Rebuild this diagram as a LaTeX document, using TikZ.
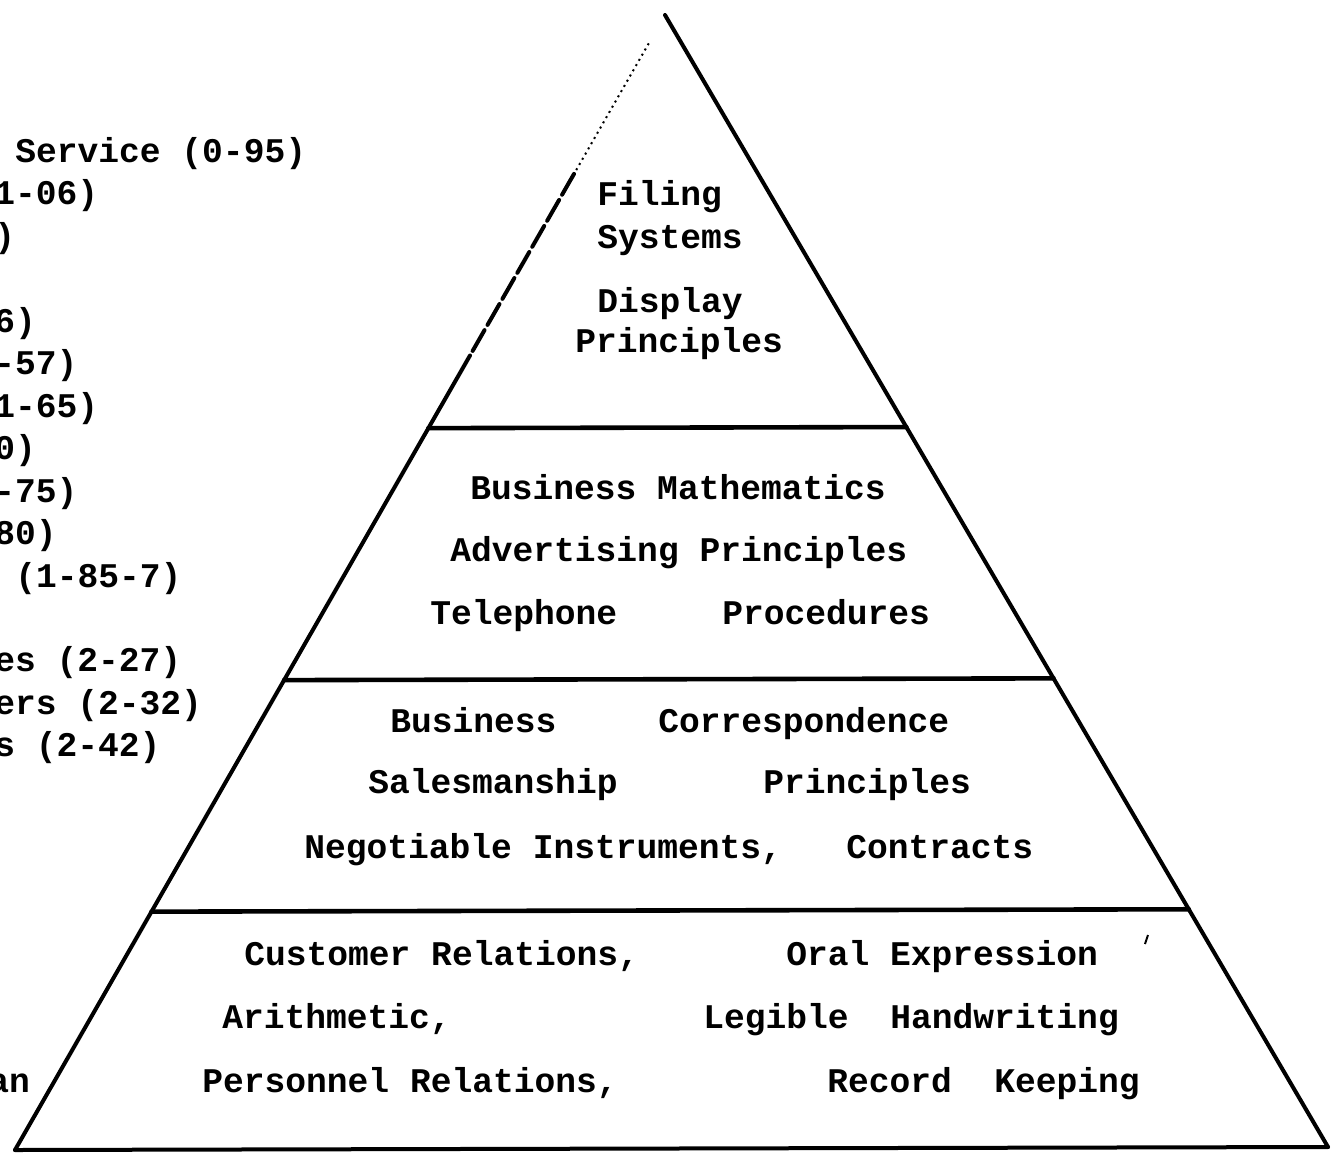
\documentclass[tikz,border=0pt]{standalone}
\usepackage{fontspec}
\setmonofont{Liberation Mono}
\usetikzlibrary{calc}

\begin{document}
\begin{tikzpicture}[x=0.5pt,y=-0.5pt]
	\tikzset{side/.style={line width=2pt, line cap=round},
		shelf/.style={line width=2.3pt, line cap=round},
		typed/.style={font=\ttfamily\bfseries\fontsize{17.3}{20}\selectfont, inner sep=0pt, anchor=base west}}
	\useasboundingbox (0,0) rectangle (1344,1152);

	% Corners
	\coordinate (apex) at (665,15);
	\coordinate (bl) at (15,1150);
	\coordinate (br) at (1328,1147);

	% Right side and base
	\draw[side] (apex) -- (br);
	\draw[side] (bl) -- (br);

	% Left side: faint dots at the top, then dashes, then solid
	\draw[line width=1pt, dotted] ($(apex)!0.025!(bl)$) -- ($(apex)!0.14!(bl)$);
	\draw[side, dash pattern=on 12pt off 3pt] ($(apex)!0.14!(bl)$) -- ($(apex)!0.30!(bl)$);
	\draw[side] ($(apex)!0.30!(bl)$) -- (bl);

	% Shelves between the tiers
	\draw[shelf] ($(apex)!0.364!(bl)$) -- ($(apex)!0.364!(br)$);
	\draw[shelf] ($(apex)!0.586!(bl)$) -- ($(apex)!0.586!(br)$);
	\draw[shelf] ($(apex)!0.790!(bl)$) -- ($(apex)!0.790!(br)$);

	% Top tier
	\node[typed] (filing) at (597,205) {Filing};
	\node[typed] (systems) at (597,248) {Systems};
	\node[typed] (display) at (597,312) {Display};
	\node[typed] (displayprin) at (575,352) {Principles};

	% Second tier
	\node[typed] (bizmath) at (470,499) {Business Mathematics};
	\node[typed] (advert) at (450,561) {Advertising Principles};
	\node[typed] (phone) at (430,624) {Telephone};
	\node[typed] (proc) at (722,624) {Procedures};

	% Third tier
	\node[typed] (biz) at (390,732) {Business};
	\node[typed] (corr) at (658,732) {Correspondence};
	\node[typed] (sales) at (368,793) {Salesmanship};
	\node[typed] (salesprin) at (763,793) {Principles};
	\node[typed] (negot) at (304,858) {Negotiable Instruments,};
	\node[typed] (contracts) at (846,858) {Contracts};

	% Bottom tier
	\node[typed] (customer) at (244,965) {Customer Relations,};
	\node[typed] (oral) at (786,965) {Oral Expression};
	\node[typed] (arith) at (222,1028) {Arithmetic,};
	\node[typed] (legible) at (703,1028) {Legible};
	\node[typed] (hand) at (890,1028) {Handwriting};
	\node[typed] (personnel) at (202,1092) {Personnel Relations,};
	\node[typed] (record) at (827,1092) {Record};
	\node[typed] (keeping) at (994,1092) {Keeping};

	% Stray tick of the scan
	\draw[line width=1pt] (1148,935) -- (1145,944);

	% List at the left edge, cut off by the page
	\node[typed] (l1) at (15,162) {Service (0-95)};
	\node[typed] (l2) at (-6,204) {1-06)};
	\node[typed] (l3) at (-6,247) {)};
	\node[typed] (l4) at (-6,332) {6)};
	\node[typed] (l5) at (-6,374) {-57)};
	\node[typed] (l6) at (-6,417) {1-65)};
	\node[typed] (l7) at (-6,459) {0)};
	\node[typed] (l8) at (-6,502) {-75)};
	\node[typed] (l9) at (-6,544) {80)};
	\node[typed] (l10) at (15,587) {(1-85-7)};
	\node[typed] (l11) at (-6,671) {es (2-27)};
	\node[typed] (l12) at (-6,714) {ers (2-32)};
	\node[typed] (l13) at (-6,756) {s (2-42)};
	\node[typed] (l14) at (-12,1092) {an};
\end{tikzpicture}
\end{document}
